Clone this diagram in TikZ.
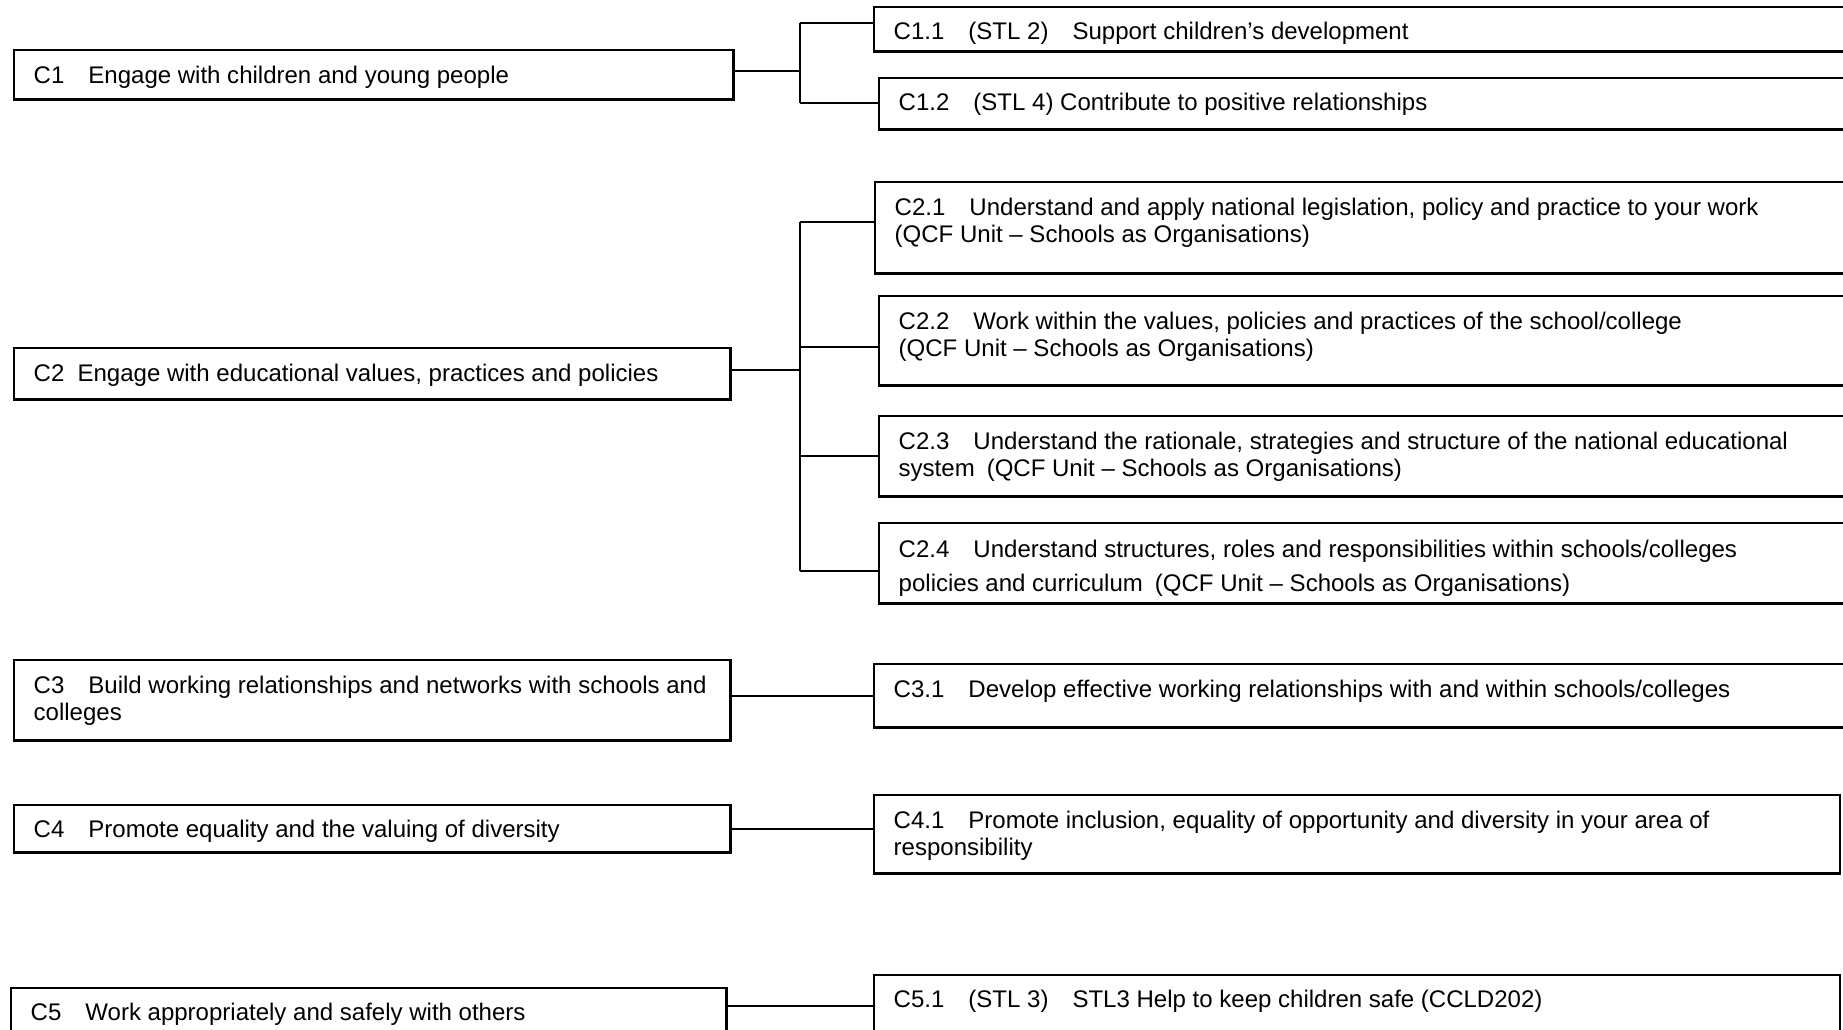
\documentclass[tikz,border=0pt]{standalone}
\usepackage{fontspec}
\setmainfont{Liberation Sans}
\tikzset{
  box/.style={draw, line width=0.7pt, anchor=north west, inner sep=0pt},
  lbl/.style={anchor=base west, align=left, inner sep=0pt, font=\fontsize{6.83}{7.68}\selectfont},
  wire/.style={line width=0.7pt}
}

\begin{document}
\begin{tikzpicture}[x=0.01cm, y=-0.01cm]
  \useasboundingbox (0,0) rectangle (1843,1029);
  \clip (0,0) rectangle (1843,1029);
  % left column (two-line labels sit on their last baseline)
  \node[box, minimum width=7.19cm, minimum height=0.49cm] (c1) at (13,49) {};
  \node[lbl] (c1t) at (33,83) {C1\quad Engage with children and young people};
  \node[box, minimum width=7.16cm, minimum height=0.51cm] (c2) at (13,347) {};
  \node[lbl] (c2t) at (33,381) {C2\hspace{0.55em}Engage with educational values, practices and policies};
  \node[box, minimum width=7.16cm, minimum height=0.80cm] (c3) at (13,659) {};
  \node[lbl] (c3t) at (33,720) {C3\quad Build working relationships and networks with schools and\\colleges};
  \node[box, minimum width=7.16cm, minimum height=0.47cm] (c4) at (13,804) {};
  \node[lbl] (c4t) at (33,837) {C4\quad Promote equality and the valuing of diversity};
  \node[box, minimum width=7.15cm, minimum height=0.60cm] (c5) at (10,987) {};
  \node[lbl] (c5t) at (30,1020) {C5\quad Work appropriately and safely with others};
  % right column
  \node[box, minimum width=10.5cm, minimum height=0.44cm] (c11) at (873,6) {};
  \node[lbl] (c11t) at (893,39) {C1.1\quad (STL 2)\quad Support children’s development};
  \node[box, minimum width=10.5cm, minimum height=0.51cm] (c12) at (878,77) {};
  \node[lbl] (c12t) at (898,110) {C1.2\quad (STL 4) Contribute to positive relationships};
  \node[box, minimum width=10.5cm, minimum height=0.91cm] (c21) at (874,181) {};
  \node[lbl] (c21t) at (894,242) {C2.1\quad Understand and apply national legislation, policy and practice to your work\\(QCF Unit – Schools as Organisations)};
  \node[box, minimum width=10.5cm, minimum height=0.89cm] (c22) at (878,295) {};
  \node[lbl] (c22t) at (898,356) {C2.2\quad Work within the values, policies and practices of the school/college\\(QCF Unit – Schools as Organisations)};
  \node[box, minimum width=10.5cm, minimum height=0.80cm] (c23) at (878,415) {};
  \node[lbl] (c23t) at (898,476) {C2.3\quad Understand the rationale, strategies and structure of the national educational\\system\hspace{0.5em}(QCF Unit – Schools as Organisations)};
  \node[box, minimum width=10.5cm, minimum height=0.80cm] (c24) at (878,522) {};
  \begin{scope}
    \clip (878,522) rectangle (1900,596);
    \node[lbl] (c24t) at (898,591) {C2.4\quad Understand structures, roles and responsibilities within schools/colleges\\[0.07cm]policies and curriculum\hspace{0.5em}(QCF Unit – Schools as Organisations)};
  \end{scope}
  \node[box, minimum width=10.5cm, minimum height=0.63cm] (c31) at (873,663) {};
  \node[lbl] (c31t) at (893,697) {C3.1\quad Develop effective working relationships with and within schools/colleges};
  \node[box, minimum width=9.65cm, minimum height=0.78cm] (c41) at (873,794) {};
  \node[lbl] (c41t) at (893,855) {C4.1\quad Promote inclusion, equality of opportunity and diversity in your area of\\responsibility};
  \node[box, minimum width=9.65cm, minimum height=0.80cm] (c51) at (873,974) {};
  \node[lbl] (c51t) at (893,1007) {C5.1\quad (STL 3)\quad STL3 Help to keep children safe (CCLD202)};
  % C1 branch
  \coordinate (j1) at (800,71);
  \coordinate (b11) at (800,23);
  \coordinate (b12) at (800,103);
  \draw[wire] (c1.east |- j1) -- (j1);
  \draw[wire] (b11) -- (b12);
  \draw[wire] (b11) -- (b11 -| c11.west);
  \draw[wire] (b12) -- (b12 -| c12.west);
  % C2 branch
  \coordinate (j2) at (800,370);
  \coordinate (b21) at (800,222);
  \coordinate (b22) at (800,347);
  \coordinate (b23) at (800,456);
  \coordinate (b24) at (800,571);
  \draw[wire] (c2.east |- j2) -- (j2);
  \draw[wire] (b21) -- (b24);
  \draw[wire] (b21) -- (b21 -| c21.west);
  \draw[wire] (b22) -- (b22 -| c22.west);
  \draw[wire] (b23) -- (b23 -| c23.west);
  \draw[wire] (b24) -- (b24 -| c24.west);
  % single links
  \draw[wire] (c31.west -| c3.east) -- (c31.west);
  \draw[wire] (c4.east) -- (c4.east -| c41.west);
  \coordinate (j5) at (725,1006);
  \draw[wire] (j5) -- (j5 -| c51.west);
\end{tikzpicture}
\end{document}
